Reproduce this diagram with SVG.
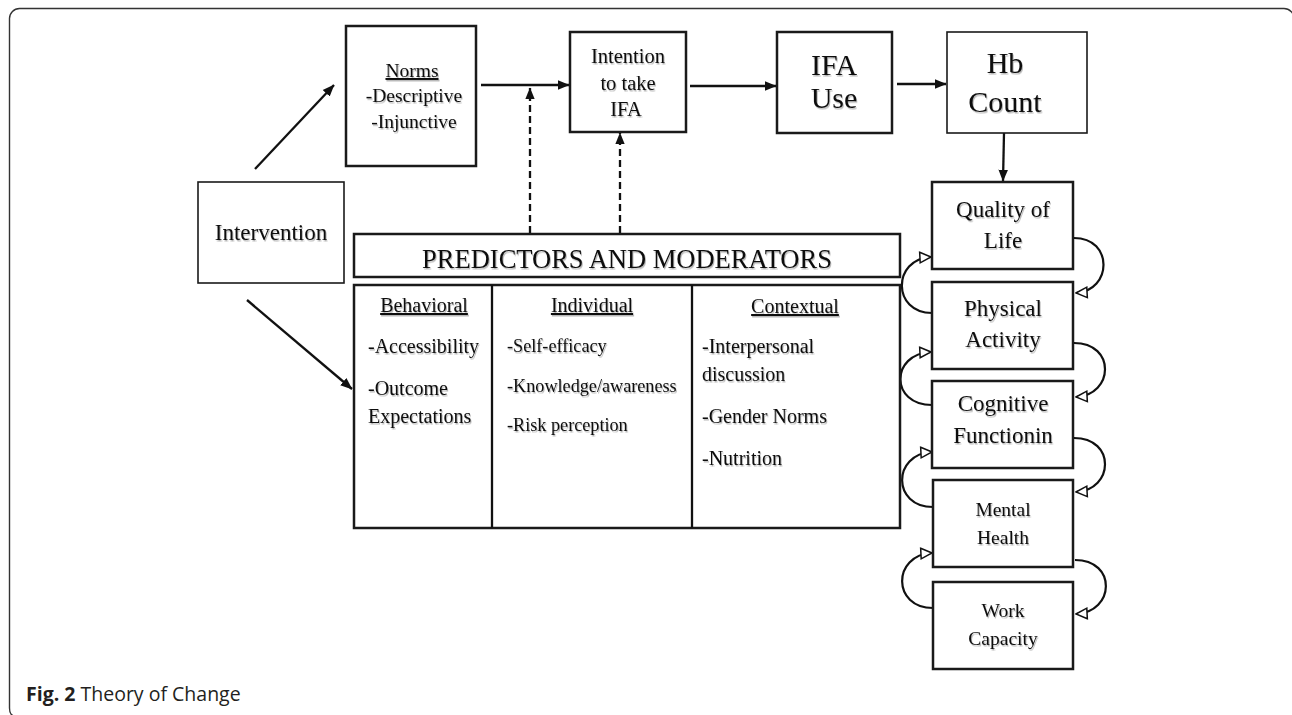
<svg xmlns="http://www.w3.org/2000/svg" width="1292" height="715" viewBox="0 0 1292 715">
<style>
.box{fill:#fff;stroke:#1a1a1a;stroke-width:2.5}
.thin{fill:#fff;stroke:#1a1a1a;stroke-width:1.6}
.t{font-family:"Liberation Serif","Times New Roman",serif;fill:#111;text-anchor:middle}
.l{font-family:"Liberation Serif","Times New Roman",serif;fill:#111}
.u{text-decoration:underline}
.ln{fill:none;stroke:#111;stroke-width:2.3}
.dash{fill:none;stroke:#111;stroke-width:2.3;stroke-dasharray:7 4}
.arc{fill:none;stroke:#111;stroke-width:2.2}
.sh{filter:url(#sh)}
</style>
<defs>
<filter id="sh" x="-10%" y="-30%" width="120%" height="160%"><feDropShadow dx="1" dy="1.5" stdDeviation="0.7" flood-color="#000" flood-opacity="0.28"/></filter>
<marker id="ah" viewBox="0 0 10 10" refX="9.5" refY="5" markerWidth="12" markerHeight="12" markerUnits="userSpaceOnUse" orient="auto"><path d="M0,1 L10,5 L0,9 z" fill="#111"/></marker>
<marker id="ho" viewBox="0 0 12 12" refX="11" refY="6" markerWidth="14" markerHeight="14" markerUnits="userSpaceOnUse" orient="auto"><path d="M1.5,1.5 L11,6 L1.5,10.5 z" fill="#fff" stroke="#111" stroke-width="1.3"/></marker>
</defs>
<rect width="1292" height="715" fill="#fff"/>
<path d="M14,716 Q9.5,715 9.5,708 V18.5 A10,10 0 0 1 19.5,8.5 H1284 A10,10 0 0 1 1294,18.5" fill="none" stroke="#333" stroke-width="1.4"/>

<g id="connectors">
<line class="ln" x1="255" y1="169" x2="334" y2="85" marker-end="url(#ah)"/>
<line class="ln" x1="247" y1="300" x2="352" y2="389" marker-end="url(#ah)"/>
<line class="ln" x1="481" y1="85" x2="569" y2="85" marker-end="url(#ah)"/>
<line class="ln" x1="690" y1="86" x2="776" y2="86" marker-end="url(#ah)"/>
<line class="ln" x1="897" y1="84" x2="946" y2="84" marker-end="url(#ah)"/>
<line class="ln" x1="1004" y1="133" x2="1003" y2="181" marker-end="url(#ah)"/>
<line class="dash" x1="530" y1="233" x2="530" y2="88" marker-end="url(#ah)"/>
<line class="dash" x1="620" y1="233" x2="620" y2="133" marker-end="url(#ah)"/>
<path class="arc" d="M1074,238 C1114,238 1112,291 1076,293" marker-end="url(#ho)"/>
<path class="arc" d="M1074,343 C1116,343 1114,395 1076,397" marker-end="url(#ho)"/>
<path class="arc" d="M1074,438 C1116,438 1114,490 1076,492" marker-end="url(#ho)"/>
<path class="arc" d="M1075,560 C1117,560 1115,612 1076,614" marker-end="url(#ho)"/>
<path class="arc" d="M932,313 C892,313 892,259 931,257" marker-end="url(#ho)"/>
<path class="arc" d="M932,405 C890,405 890,354 931,352" marker-end="url(#ho)"/>
<path class="arc" d="M933,507 C892,507 892,454 932,452" marker-end="url(#ho)"/>
<path class="arc" d="M933,608 C892,608 892,555 932,553" marker-end="url(#ho)"/>
</g>

<g id="intervention">
<rect class="thin" x="198" y="182" width="146" height="101"/>
<text class="t sh" x="271" y="240" font-size="23">Intervention</text>
</g>

<g id="norms">
<rect class="box" x="346" y="26" width="130" height="140"/>
<text class="t sh" font-size="19.5"><tspan class="u" x="412" y="77">Norms</tspan><tspan x="414" y="102">-Descriptive</tspan><tspan x="414" y="128">-Injunctive</tspan></text>
</g>

<g id="intention">
<rect class="box" x="570" y="32" width="116" height="100"/>
<text class="t sh" font-size="20.5"><tspan x="628" y="63">Intention</tspan><tspan x="628" y="90">to take</tspan><tspan x="626" y="116">IFA</tspan></text>
</g>

<g id="ifa-use">
<rect class="box" x="777" y="32" width="115" height="101"/>
<text class="t sh" font-size="30"><tspan x="834" y="75">IFA</tspan><tspan x="834" y="108">Use</tspan></text>
</g>

<g id="hb-count">
<rect class="thin" x="947" y="32" width="140" height="101"/>
<text class="t sh" font-size="30"><tspan x="1005" y="73">Hb</tspan><tspan x="1005" y="112">Count</tspan></text>
</g>

<g id="predictors-header">
<rect class="box" x="354" y="234" width="546" height="43"/>
<text class="t sh" x="627" y="268" font-size="26.5">PREDICTORS AND MODERATORS</text>
</g>

<g id="predictors-grid">
<rect class="box" x="354" y="285" width="546" height="243"/>
<line class="ln" x1="492" y1="285" x2="492" y2="528" stroke-width="2.5"/>
<line class="ln" x1="692" y1="285" x2="692" y2="528" stroke-width="2.5"/>
</g>

<g id="behavioral">
<text class="t sh u" x="424" y="312" font-size="20">Behavioral</text>
<text class="l sh" font-size="20"><tspan x="368" y="353">-Accessibility</tspan><tspan x="368" y="395">-Outcome</tspan><tspan x="368" y="423">Expectations</tspan></text>
</g>

<g id="individual">
<text class="t sh u" x="592" y="312" font-size="20">Individual</text>
<text class="l sh" font-size="18.2"><tspan x="507" y="352">-Self-efficacy</tspan><tspan x="507" y="392">-Knowledge/awareness</tspan><tspan x="507" y="431">-Risk perception</tspan></text>
</g>

<g id="contextual">
<text class="t sh u" x="795" y="313" font-size="20">Contextual</text>
<text class="l sh" font-size="20"><tspan x="702" y="353">-Interpersonal</tspan><tspan x="702" y="381">discussion</tspan><tspan x="702" y="423">-Gender Norms</tspan><tspan x="702" y="465">-Nutrition</tspan></text>
</g>

<g id="quality-of-life">
<rect class="box" x="932" y="182" width="141" height="87"/>
<text class="t sh" font-size="23"><tspan x="1003" y="217">Quality of</tspan><tspan x="1003" y="248">Life</tspan></text>
</g>

<g id="physical-activity">
<rect class="box" x="932" y="282" width="141" height="87"/>
<text class="t sh" font-size="23"><tspan x="1003" y="316">Physical</tspan><tspan x="1003" y="347">Activity</tspan></text>
</g>

<g id="cognitive-functioning">
<rect class="box" x="932" y="381" width="141" height="87"/>
<text class="t sh" font-size="23"><tspan x="1003" y="411">Cognitive</tspan><tspan x="1003" y="443">Functionin</tspan></text>
</g>

<g id="mental-health">
<rect class="box" x="933" y="480" width="140" height="87"/>
<text class="t sh" font-size="19.5"><tspan x="1003" y="516">Mental</tspan><tspan x="1003" y="544">Health</tspan></text>
</g>

<g id="work-capacity">
<rect class="box" x="933" y="582" width="140" height="87"/>
<text class="t sh" font-size="19.5"><tspan x="1003" y="617">Work</tspan><tspan x="1003" y="645">Capacity</tspan></text>
</g>

<g id="caption">
<text x="26" y="701" font-family="'Open Sans','Noto Sans',sans-serif" font-size="19.5" fill="#231f20"><tspan font-weight="bold">Fig. 2</tspan> Theory of Change</text>
</g>
</svg>
